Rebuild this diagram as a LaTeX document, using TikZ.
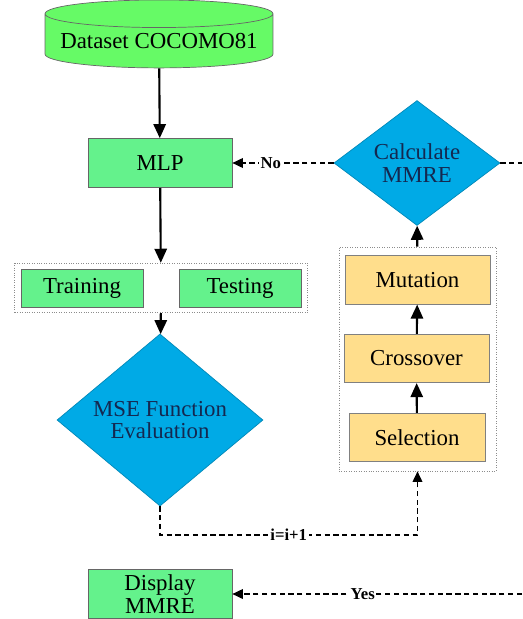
\documentclass[tikz,border=0pt]{standalone}
\usepackage{fontspec}
\setmainfont{Liberation Serif}
\newfontfamily\boxfont{Liberation Serif}
\usetikzlibrary{shapes,arrows,arrows.meta,positioning,fit,calc}

\definecolor{dbgreen}{RGB}{102,250,102}
\definecolor{procgreen}{RGB}{100,242,140}
\definecolor{gayellow}{RGB}{255,222,140}
\definecolor{decblue}{RGB}{0,170,230}
\definecolor{dectext}{RGB}{20,40,80}

\begin{document}
\begin{tikzpicture}[
    x=0.02cm, y=-0.02cm,
    db/.style={draw=black!60, shape=cylinder, shape border rotate=90, aspect=0.14, fill=dbgreen, minimum width=4.56cm, minimum height=1.36cm, inner sep=0pt, font=\boxfont\fontsize{13}{14}\selectfont},
    proc/.style={draw=black!60, rectangle, minimum width=2.88cm, minimum height=0.98cm, fill=procgreen, inner sep=0pt, align=center, font=\boxfont\fontsize{13}{13}\selectfont},
    gabox/.style={draw=black!50, rectangle, minimum width=2.9cm, minimum height=0.97cm, fill=gayellow, inner sep=0pt, font=\boxfont\fontsize{13}{14}\selectfont},
    decision/.style={draw=decblue!80!black, diamond, fill=decblue, inner sep=0pt, text=dectext, align=center, font=\boxfont\fontsize{13}{13}\selectfont},
    group/.style={draw=black!45, densely dotted, rectangle},
    edge/.style={-{Triangle[length=8pt,width=7pt]}, very thick, draw=black},
    loopedge/.style={-{Triangle[length=6pt,width=5.5pt]}, thick, densely dashed, draw=black},
    lbl/.style={font=\boxfont\fontsize{9.5}{10}\selectfont\bfseries, fill=white, inner sep=1pt},
]
\useasboundingbox (0,0) rectangle (522,619);

% Dataset
\node[db] (data) at (159,41) {Dataset COCOMO81};

% MLP
\node[proc] (mlp) at (160,163) {MLP};

% Training / Testing
\node[proc, minimum width=2.44cm, minimum height=0.76cm] (train) at (82,288) {Training};
\node[proc, minimum width=2.44cm, minimum height=0.76cm] (test) at (240,288) {Testing};
\node[group, fit=(train)(test), inner xsep=0.12cm, inner ysep=0.11cm] (traingrp) {};

% MSE
\node[decision, minimum width=4.12cm, minimum height=2.52cm] (mse) at (160,420) {MSE Function\\Evaluation};

% Calculate MMRE
\node[decision, minimum width=3.32cm, minimum height=2.06cm] (calc) at (417,163) {Calculate\\MMRE};

% GA operators
\node[group, minimum width=3.14cm, minimum height=4.48cm] (gagrp) at (417.5,359) {};
\node[gabox] (mut) at (417.5,280) {Mutation};
\node[gabox] (cross) at (416.5,358.5) {Crossover};
\node[gabox, minimum width=2.72cm] (sel) at (417,437.5) {Selection};

% Display
\node[proc] (disp) at (160,594) {Display\\MMRE};

% free ends at the right edge
\coordinate (rno) at (522,163);
\coordinate (ryes) at (522,594);
\coordinate (ibend) at (160,535);

% Edges
\draw[edge] (data) -- (mlp);
\draw[edge] (mlp) -- (traingrp);
\draw[edge] (traingrp) -- (mse);
\draw[edge] (sel) -- (cross);
\draw[edge] (cross) -- (mut);
\draw[edge] (gagrp) -- (calc);
\draw[loopedge] (calc.west) -- node[lbl, pos=0.62] {No} (mlp.east);
\draw[thick, densely dashed] (calc.east) -- (rno);
\draw[loopedge] (mse.south) -- (ibend) -| node[lbl, pos=0.25] {i=i+1} (gagrp.south);
\draw[loopedge] (ryes) -- node[lbl, pos=0.55] {Yes} (disp.east);

\end{tikzpicture}
\end{document}
